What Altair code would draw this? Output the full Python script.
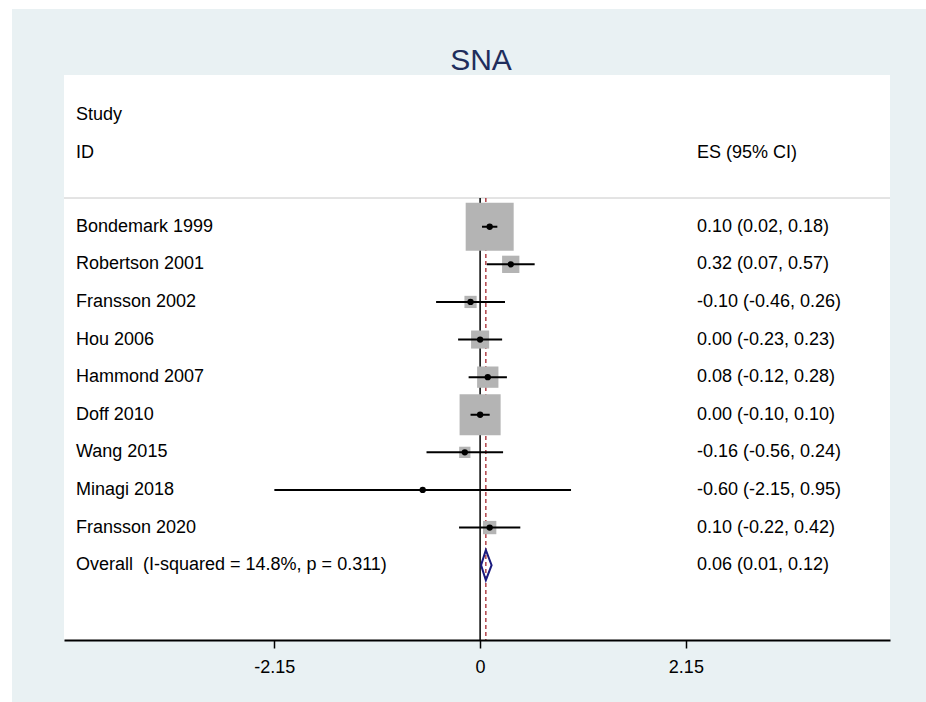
import altair as alt
import pandas as pd

# ---- data ----
studies = ["Bondemark 1999", "Robertson 2001", "Fransson 2002", "Hou 2006",
           "Hammond 2007", "Doff 2010", "Wang 2015", "Minagi 2018", "Fransson 2020"]
es = [0.10, 0.32, -0.10, 0.00, 0.08, 0.00, -0.16, -0.60, 0.10]
lo = [0.02, 0.07, -0.46, -0.23, -0.12, -0.10, -0.56, -2.15, -0.22]
hi = [0.18, 0.57, 0.26, 0.23, 0.28, 0.10, 0.24, 0.95, 0.42]
weights = [41.6, 5.4, 2.7, 5.9, 8.2, 30.4, 2.3, 0.3, 3.2]
overall_label = "Overall\u00a0 (I-squared = 14.8%, p = 0.311)"
overall_es = 0.06
overall_lo = 0.01
overall_hi = 0.12
tick_values = [-2.15, 0, 2.15]
title_text = "SNA"

FONT = "Liberation Sans"
BG = "#E9F1F3"


def fmt(e, l, h):
    return f"{e:.2f} ({l:.2f}, {h:.2f})"


df = pd.DataFrame({
    "study": studies, "es": es, "lo": lo, "hi": hi, "w": weights,
    "row": list(range(len(studies))),
})
df["esText"] = [fmt(a, b, c) for a, b, c in zip(es, lo, hi)]

ov_row = len(studies)
ov = pd.DataFrame({"study": [overall_label], "es": [overall_es], "lo": [overall_lo],
                   "hi": [overall_hi], "row": [ov_row],
                   "esText": [fmt(overall_es, overall_lo, overall_hi)]})
half_h = 0.4
diamond = pd.DataFrame({
    "x": [overall_lo, overall_es, overall_hi, overall_es, overall_lo],
    "y": [ov_row, ov_row - half_h, ov_row, ov_row + half_h, ov_row],
    "ord": [0, 1, 2, 3, 4],
})
dummy = pd.DataFrame({"a": [0]})

xscale = alt.Scale(domain=[-4.348, 4.283], nice=False, zero=False)
yscale = alt.Scale(domain=[-4.035, 10.99], reverse=True, nice=False, zero=False)
xaxis = alt.Axis(values=tick_values, title=None, grid=False, zindex=1,
                 labelExpr="datum.value == 0 ? '0' : (datum.value < 0 ? '-' : '') + format(abs(datum.value), '.2f')",
                 domainColor="black", domainWidth=2, tickColor="black", tickWidth=1.5,
                 tickSize=8, labelFontSize=18, labelFont=FONT, labelColor="black",
                 labelPadding=10, labelFlush=False)


def X(field):
    return alt.X(field, scale=xscale, axis=xaxis)


def Y(field):
    return alt.Y(field, scale=yscale, axis=None)


W, H = 826, 565

bg = alt.Chart(dummy).mark_rect(color=BG).encode(
    x=alt.value(-52), x2=alt.value(W + 36), y=alt.value(-66), y2=alt.value(H + 62))
white = alt.Chart(dummy).mark_rect(color="white").encode(
    x=alt.value(0), x2=alt.value(W), y=alt.value(0), y2=alt.value(H))
sep = alt.Chart(dummy).mark_rule(color="#C8C8C8", strokeWidth=1).encode(
    x=alt.value(0), x2=alt.value(W), y=alt.value(123))
zero = alt.Chart(dummy).mark_rule(color="black", strokeWidth=1.5).encode(
    x=alt.X(datum=0, scale=xscale, axis=xaxis), y=alt.value(123), y2=alt.value(H))
ovline = alt.Chart(ov).mark_rule(color="#A3252C", strokeWidth=1.3, strokeDash=[4, 3]).encode(
    x=X("es:Q"), y=alt.value(123), y2=alt.value(H))
boxes = alt.Chart(df).mark_square(color="#B4B4B4", opacity=1).encode(
    x=X("es:Q"), y=Y("row:Q"),
    size=alt.Size("w:Q", scale=alt.Scale(domain=[0, 100], range=[0, 5538]), legend=None))
ci = alt.Chart(df).mark_rule(color="black", strokeWidth=2).encode(
    x=X("lo:Q"), x2="hi:Q", y=Y("row:Q"))
pts = alt.Chart(df).mark_point(filled=True, shape="circle", size=40, color="black", opacity=1).encode(
    x=X("es:Q"), y=Y("row:Q"))
dia = alt.Chart(diamond).mark_line(color="#1A1A7E", strokeWidth=2).encode(
    x=X("x:Q"), y=Y("y:Q"), order="ord:Q")

txt_kw = dict(font=FONT, fontSize=18, color="black", align="left", baseline="middle")
labels = alt.Chart(df).mark_text(**txt_kw).encode(x=alt.value(12), y=Y("row:Q"), text="study:N")
eslab = alt.Chart(df).mark_text(**txt_kw).encode(x=alt.value(633), y=Y("row:Q"), text="esText:N")
ovlab = alt.Chart(ov).mark_text(**txt_kw).encode(x=alt.value(12), y=Y("row:Q"), text="study:N")
oves = alt.Chart(ov).mark_text(**txt_kw).encode(x=alt.value(633), y=Y("row:Q"), text="esText:N")
h1 = alt.Chart(dummy).mark_text(text="Study", **txt_kw).encode(x=alt.value(12), y=alt.value(40))
h2 = alt.Chart(dummy).mark_text(text="ID", **txt_kw).encode(x=alt.value(12), y=alt.value(78))
h3 = alt.Chart(dummy).mark_text(text="ES (95% CI)", **txt_kw).encode(x=alt.value(633), y=alt.value(78))
title = alt.Chart(dummy).mark_text(text=title_text, font=FONT, fontSize=30, color="#1F2D5C",
                                   align="center", baseline="middle").encode(
    x=alt.value(417), y=alt.value(-14))

chart = alt.layer(
    bg, white, sep, zero, ovline, boxes, ci, pts, dia,
    labels, eslab, ovlab, oves, h1, h2, h3, title
).properties(
    width=W, height=H,
    padding={"left": 64, "top": 75, "right": 36, "bottom": 62},
    autosize=alt.AutoSizeParams(type="none"),
).configure(background="white").configure_view(strokeWidth=0, fill=None)

chart.save("out.html", embed_options={"renderer": "svg", "actions": False})
